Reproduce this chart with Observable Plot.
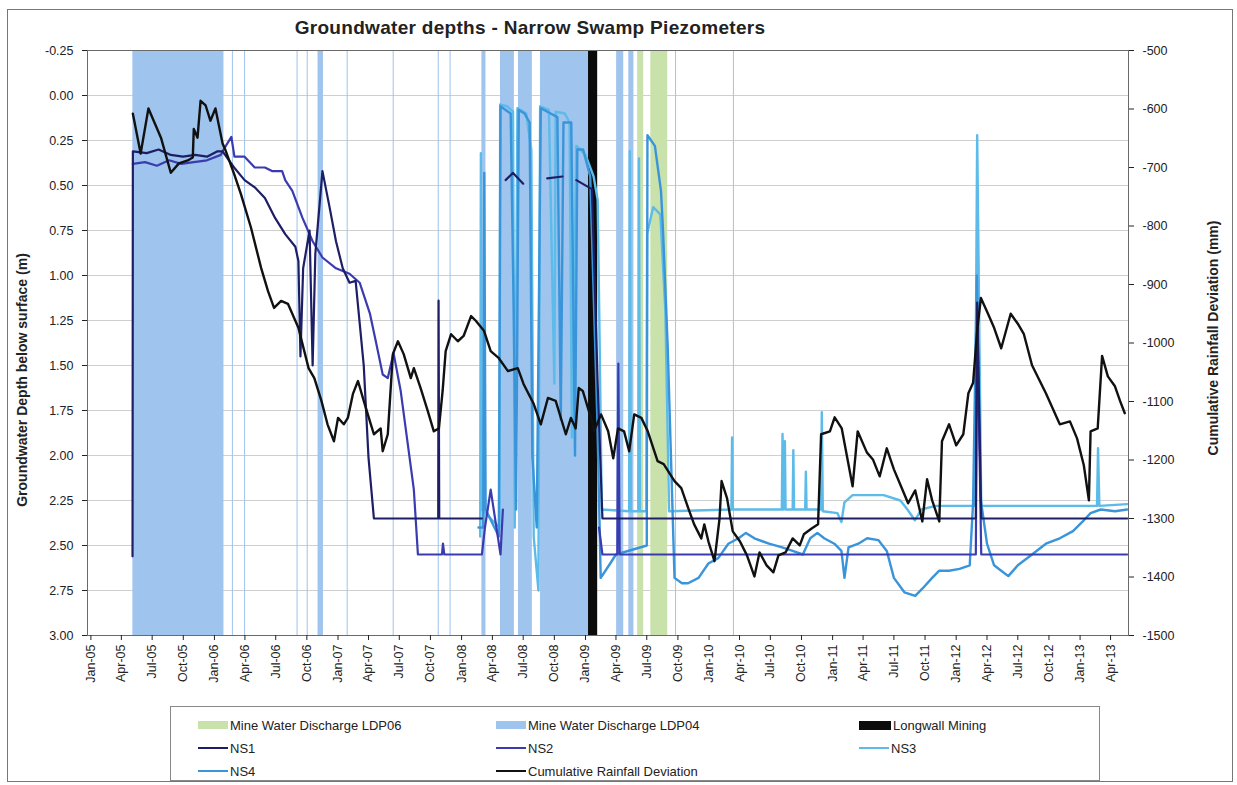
<!DOCTYPE html>
<html><head><meta charset="utf-8">
<script src="https://cdn.jsdelivr.net/npm/d3@7"></script>
<script src="https://cdn.jsdelivr.net/npm/@observablehq/plot@0.6"></script>
<style>
body{margin:0;background:#fff;font-family:"Liberation Sans",Arial,sans-serif;}
#wrap{position:relative;width:1237px;height:785px;overflow:hidden;background:#fff}
#border{position:absolute;left:7px;top:9px;width:1226px;height:773px;border:1px solid #777;box-sizing:border-box}
#title{position:absolute;left:0;width:1060px;top:17px;text-align:center;font-weight:bold;font-size:19px;letter-spacing:0.3px;color:#222}
#plot{position:absolute;left:0;top:0}
.ylab{position:absolute;font-weight:bold;font-size:14px;color:#222;white-space:nowrap;transform-origin:center center}
#legend{position:absolute;left:170px;top:706px;width:930px;height:75px;border:1px solid #888;box-sizing:border-box;font-family:"Liberation Sans Narrow","Liberation Sans",Arial,sans-serif;font-size:13px;color:#222}
.item{position:absolute;display:flex;align-items:center;height:16px}
.sw{display:inline-block;margin-right:2px}
</style></head>
<body>
<div id="wrap">
<div id="border"></div>
<div id="plot"></div>
<div id="title">Groundwater depths - Narrow Swamp Piezometers</div>
<div class="ylab" id="ylabL">Groundwater Depth below surface (m)</div>
<div class="ylab" id="ylabR">Cumulative Rainfall Deviation (mm)</div>
<div id="legend"></div>
</div>
<script>
// ---------- DATA ----------
const depthTicks = [-0.25, 0, 0.25, 0.5, 0.75, 1, 1.25, 1.5, 1.75, 2, 2.25, 2.5, 2.75, 3];
const rainTicks = [-500, -600, -700, -800, -900, -1000, -1100, -1200, -1300, -1400, -1500];
const xTickLabels = ["Jan-05","Apr-05","Jul-05","Oct-05","Jan-06","Apr-06","Jul-06","Oct-06","Jan-07","Apr-07","Jul-07","Oct-07","Jan-08","Apr-08","Jul-08","Oct-08","Jan-09","Apr-09","Jul-09","Oct-09","Jan-10","Apr-10","Jul-10","Oct-10","Jan-11","Apr-11","Jul-11","Oct-11","Jan-12","Apr-12","Jul-12","Oct-12","Jan-13","Apr-13"];

// discharge / mining periods [start, end]
const ldp04 = [["2005-05-05","2006-01-29"],["2006-02-23","2006-02-26"],["2006-03-31","2006-04-03"],["2006-09-02","2006-09-05"],["2006-10-02","2006-10-05"],["2006-11-03","2006-11-19"],["2007-01-28","2007-01-31"],["2007-06-13","2007-06-16"],["2007-10-24","2007-10-27"],["2007-11-28","2007-12-01"],["2008-03-01","2008-03-13"],["2008-04-25","2008-06-05"],["2008-06-17","2008-07-28"],["2008-08-21","2009-01-10"],["2009-04-03","2009-04-24"],["2009-05-09","2009-05-24"],["2009-09-24","2009-09-27"],["2010-03-14","2010-03-17"]];
const ldp06 = [["2009-06-04","2009-06-22"],["2009-07-13","2009-09-01"]];
const longwall = [["2009-01-10","2009-02-06"]];

// groundwater depth (m)
const ns1 = [["2005-05-04",2.56],["2005-05-05",0.31],["2005-06-15",0.32],["2005-07-20",0.30],["2005-08-25",0.33],["2005-09-30",0.34],["2005-11-05",0.33],["2005-12-10",0.34],["2006-01-10",0.31],["2006-01-25",0.31],["2006-02-28",0.40],["2006-03-31",0.47],["2006-04-30",0.51],["2006-05-30",0.57],["2006-06-29",0.68],["2006-07-29",0.77],["2006-08-28",0.84],["2006-09-06",0.92],["2006-09-12",1.45],["2006-09-20",0.96],["2006-10-09",0.75],["2006-10-18",1.50],["2006-10-26",0.88],["2006-11-16",0.42],["2006-12-07",0.62],["2006-12-26",0.81],["2007-01-15",0.96],["2007-02-04",1.04],["2007-02-22",1.03],["2007-03-18",1.50],["2007-04-01",2.01],["2007-04-17",2.35],["2007-10-24",2.35],["2007-10-25",1.14],["2007-10-27",2.35],["2008-03-01",2.35],["2008-03-02",NaN],["2008-05-10",0.47],["2008-06-01",0.43],["2008-07-01",0.49],["2008-07-02",NaN],["2008-09-10",0.46],["2008-10-25",0.45],["2008-10-26",NaN],["2008-12-05",0.47],["2009-01-20",0.52],["2009-02-06",1.60],["2009-02-20",2.35],["2012-02-28",2.35],["2012-03-03",1.15],["2012-03-15",2.35],["2013-05-20",2.35]];
const ns2 = [["2005-05-05",0.38],["2005-06-10",0.37],["2005-07-15",0.39],["2005-08-20",0.36],["2005-09-25",0.38],["2005-11-01",0.37],["2005-12-10",0.36],["2006-01-20",0.33],["2006-01-25",0.31],["2006-02-20",0.23],["2006-03-01",0.34],["2006-03-31",0.34],["2006-04-30",0.40],["2006-05-30",0.40],["2006-06-20",0.42],["2006-07-20",0.42],["2006-07-29",0.47],["2006-08-19",0.53],["2006-09-18",0.68],["2006-10-18",0.81],["2006-11-16",0.90],["2006-12-26",0.96],["2007-02-04",0.99],["2007-03-06",1.04],["2007-04-05",1.21],["2007-04-22",1.36],["2007-05-13",1.55],["2007-05-28",1.57],["2007-06-14",1.43],["2007-07-05",1.64],["2007-08-13",2.19],["2007-08-25",2.55],["2007-11-04",2.55],["2007-11-07",2.49],["2007-11-11",2.55],["2008-03-01",2.55],["2008-03-10",2.40],["2008-03-27",2.19],["2008-04-25",2.55],["2008-05-02",2.30],["2008-05-03",NaN],["2009-02-10",2.40],["2009-02-20",2.55],["2009-04-05",2.55],["2009-04-08",1.49],["2009-04-12",2.55],["2012-02-28",2.55],["2012-03-03",1.20],["2012-03-15",2.55],["2013-05-20",2.55]];
const ns3 = [["2008-02-25",2.45],["2008-02-27",0.32],["2008-03-01",2.30],["2008-04-22",2.40],["2008-04-24",0.05],["2008-05-15",0.06],["2008-06-01",0.09],["2008-06-06",2.40],["2008-06-14",0.07],["2008-07-10",0.10],["2008-07-25",0.30],["2008-08-01",2.45],["2008-08-15",2.75],["2008-08-20",0.06],["2008-09-15",0.08],["2008-10-01",1.60],["2008-10-05",0.09],["2008-11-01",0.10],["2008-11-15",0.15],["2008-11-22",1.90],["2008-12-05",0.28],["2009-01-01",0.33],["2009-01-25",0.45],["2009-02-06",0.58],["2009-02-12",1.40],["2009-02-18",2.30],["2009-05-10",2.31],["2009-05-12",0.31],["2009-05-15",2.31],["2009-06-06",2.31],["2009-06-08",0.35],["2009-06-11",2.31],["2009-06-30",2.31],["2009-07-02",0.77],["2009-07-20",0.62],["2009-08-10",0.66],["2009-08-25",1.20],["2009-09-05",2.31],["2010-03-08",2.30],["2010-03-10",1.90],["2010-03-12",2.30],["2010-08-04",2.30],["2010-08-06",1.88],["2010-08-09",2.30],["2010-08-13",1.92],["2010-08-15",2.30],["2010-09-05",2.30],["2010-09-07",1.97],["2010-09-09",2.30],["2010-10-12",2.30],["2010-10-14",2.09],["2010-10-16",2.30],["2010-11-28",2.30],["2010-11-30",1.76],["2010-12-03",2.31],["2011-01-15",2.32],["2011-01-27",2.37],["2011-02-05",2.26],["2011-03-01",2.22],["2011-06-01",2.22],["2011-07-20",2.25],["2011-08-10",2.30],["2011-09-01",2.36],["2011-09-20",2.30],["2011-11-01",2.28],["2012-02-25",2.28],["2012-03-03",0.22],["2012-03-15",2.28],["2013-02-20",2.28],["2013-02-23",1.96],["2013-02-27",2.28],["2013-05-20",2.27]];
const ns4 = [["2008-02-20",2.40],["2008-03-05",2.40],["2008-03-08",0.43],["2008-03-12",2.30],["2008-04-20",2.45],["2008-04-25",0.06],["2008-05-10",0.08],["2008-05-25",0.10],["2008-06-03",1.20],["2008-06-10",2.30],["2008-06-18",0.08],["2008-07-05",0.10],["2008-07-20",0.15],["2008-07-28",2.00],["2008-08-10",2.40],["2008-08-22",0.07],["2008-09-20",0.10],["2008-10-10",0.12],["2008-10-20",1.80],["2008-10-28",0.15],["2008-11-20",0.15],["2008-12-01",2.00],["2008-12-08",0.30],["2008-12-25",0.30],["2009-01-15",0.45],["2009-02-05",1.80],["2009-02-15",2.68],["2009-03-15",2.60],["2009-04-01",2.55],["2009-07-01",2.50],["2009-07-03",0.22],["2009-07-25",0.28],["2009-08-12",0.53],["2009-08-18",0.75],["2009-09-01",1.40],["2009-09-21",2.68],["2009-10-13",2.71],["2009-10-31",2.71],["2009-12-01",2.68],["2009-12-30",2.60],["2010-01-28",2.57],["2010-02-27",2.49],["2010-03-29",2.46],["2010-04-20",2.43],["2010-05-15",2.46],["2010-06-27",2.49],["2010-08-05",2.51],["2010-09-05",2.53],["2010-10-05",2.55],["2010-10-27",2.46],["2010-11-17",2.43],["2010-12-07",2.46],["2011-01-06",2.49],["2011-01-27",2.53],["2011-02-05",2.68],["2011-02-17",2.51],["2011-03-18",2.49],["2011-04-13",2.46],["2011-05-16",2.47],["2011-06-10",2.53],["2011-07-01",2.68],["2011-08-01",2.76],["2011-09-02",2.78],["2011-09-23",2.74],["2011-10-22",2.68],["2011-11-12",2.64],["2011-12-11",2.64],["2012-01-11",2.63],["2012-02-10",2.61],["2012-02-20",2.26],["2012-03-02",1.00],["2012-03-14",2.25],["2012-04-01",2.49],["2012-04-22",2.61],["2012-05-13",2.64],["2012-06-03",2.67],["2012-07-01",2.61],["2012-08-12",2.55],["2012-09-22",2.49],["2012-11-02",2.46],["2012-12-11",2.42],["2013-01-12",2.36],["2013-02-01",2.32],["2013-03-03",2.30],["2013-04-14",2.31],["2013-05-20",2.30]];

// cumulative rainfall deviation (mm)
const rain = [["2005-05-05",-608],["2005-05-28",-676],["2005-06-20",-599],["2005-07-27",-649],["2005-08-25",-709],["2005-09-18",-693],["2005-10-14",-688],["2005-10-29",-683],["2005-11-01",-634],["2005-11-12",-649],["2005-11-21",-586],["2005-12-06",-594],["2005-12-20",-620],["2006-01-04",-599],["2006-01-13",-625],["2006-01-25",-659],["2006-02-03",-671],["2006-02-28",-711],["2006-03-20",-745],["2006-04-19",-803],["2006-05-19",-872],["2006-06-08",-911],["2006-06-26",-940],["2006-07-17",-928],["2006-08-06",-933],["2006-09-06",-974],["2006-10-06",-1043],["2006-10-23",-1060],["2006-11-13",-1099],["2006-12-01",-1139],["2006-12-20",-1168],["2007-01-01",-1128],["2007-01-18",-1139],["2007-01-30",-1128],["2007-02-14",-1087],["2007-03-01",-1065],["2007-03-18",-1099],["2007-04-08",-1139],["2007-04-17",-1156],["2007-05-07",-1146],["2007-05-13",-1185],["2007-05-28",-1156],["2007-06-12",-1019],["2007-06-27",-997],["2007-07-14",-1019],["2007-08-04",-1060],["2007-08-13",-1043],["2007-09-02",-1077],["2007-09-23",-1116],["2007-10-11",-1151],["2007-10-26",-1146],["2007-11-06",-1082],["2007-11-15",-1014],["2007-12-01",-985],["2007-12-21",-997],["2008-01-07",-988],["2008-01-29",-954],["2008-02-12",-962],["2008-03-07",-979],["2008-03-27",-1014],["2008-04-20",-1026],["2008-05-17",-1048],["2008-06-15",-1043],["2008-07-02",-1070],["2008-08-01",-1104],["2008-08-22",-1139],["2008-09-12",-1094],["2008-10-05",-1099],["2008-11-04",-1156],["2008-11-19",-1128],["2008-12-03",-1146],["2008-12-12",-1077],["2008-12-24",-1082],["2009-01-17",-1128],["2009-01-26",-1151],["2009-02-16",-1122],["2009-03-09",-1151],["2009-03-24",-1197],["2009-04-07",-1146],["2009-04-25",-1151],["2009-05-10",-1185],["2009-05-25",-1122],["2009-06-15",-1128],["2009-07-04",-1151],["2009-08-02",-1202],["2009-08-20",-1207],["2009-09-21",-1236],["2009-10-11",-1248],["2009-11-01",-1283],["2009-11-18",-1310],["2009-12-09",-1334],["2009-12-18",-1310],["2009-12-30",-1339],["2010-01-17",-1373],["2010-02-01",-1300],["2010-02-07",-1236],["2010-02-23",-1265],["2010-03-12",-1322],["2010-04-02",-1339],["2010-04-23",-1363],["2010-05-15",-1399],["2010-05-30",-1358],["2010-06-20",-1380],["2010-07-10",-1392],["2010-07-25",-1363],["2010-08-15",-1358],["2010-09-05",-1334],["2010-09-26",-1346],["2010-10-08",-1327],["2010-10-31",-1317],["2010-11-19",-1310],["2010-11-28",-1156],["2010-12-24",-1151],["2011-01-07",-1127],["2011-01-28",-1146],["2011-03-01",-1245],["2011-03-16",-1151],["2011-04-12",-1187],["2011-04-30",-1199],["2011-05-20",-1228],["2011-06-10",-1180],["2011-07-01",-1216],["2011-07-22",-1245],["2011-08-12",-1274],["2011-09-02",-1252],["2011-09-23",-1305],["2011-10-07",-1233],["2011-10-22",-1269],["2011-11-12",-1305],["2011-11-20",-1168],["2011-12-11",-1139],["2012-01-01",-1175],["2012-01-22",-1156],["2012-02-06",-1086],["2012-02-20",-1068],["2012-03-03",-979],["2012-03-14",-923],["2012-04-04",-950],["2012-04-22",-974],["2012-05-13",-1009],["2012-06-10",-950],["2012-07-01",-967],["2012-07-19",-985],["2012-08-12",-1038],["2012-09-22",-1086],["2012-11-02",-1139],["2012-12-02",-1134],["2012-12-23",-1163],["2013-01-12",-1209],["2013-01-27",-1269],["2013-02-01",-1151],["2013-02-22",-1146],["2013-03-07",-1022],["2013-03-24",-1057],["2013-04-14",-1074],["2013-04-29",-1099],["2013-05-13",-1120]];

// ---------- STYLE ----------
const C = {ldp06:"#c9e2ac", ldp04:"#9fc4ee", longwall:"#0b0b0b", ns1:"#1e1e66", ns2:"#3b3bb0", ns3:"#5cbbe8", ns4:"#3a94da", rain:"#111111"};

// ---------- BUILD ----------
const parse = s => new Date(s + "T00:00:00Z");
const rows = arr => arr.map(([d, v]) => ({date: parse(d), v}));
const spans = arr => arr.map(([a, b]) => ({a: parse(a), b: parse(b)}));
const rainToDepth = r => -0.25 + (-500 - r) / 1000 * 3.25;
const depthToRain = d => -500 - (d + 0.25) / 3.25 * 1000;
const tickParse = d3.utcParse("%b-%y");
const xTicks = xTickLabels.map(tickParse);
const fmtX = d3.utcFormat("%b-%y");

const chart = Plot.plot({
  width: 1237, height: 712,
  marginLeft: 87, marginRight: 109, marginTop: 50, marginBottom: 77,
  style: {fontFamily: "'Liberation Sans', Arial, sans-serif", fontSize: "12.5px", color: "#222", background: "transparent"},
  x: {type: "utc", domain: [parse("2004-12-22"), parse("2013-05-24")]},
  y: {domain: [3, -0.25]},
  marks: [
    Plot.gridY(depthTicks, {stroke: "#cfcfcf", strokeOpacity: 1}),
    Plot.rect(spans(ldp04), {x1: "a", x2: "b", fill: C.ldp04, fillOpacity: 1, inset: 0}),
    Plot.rect(spans(ldp06), {x1: "a", x2: "b", fill: C.ldp06, fillOpacity: 1, inset: 0}),
    Plot.rect(spans(longwall), {x1: "a", x2: "b", fill: C.longwall, inset: 0}),
    Plot.line(rows(ns3), {x: "date", y: "v", stroke: C.ns3, strokeWidth: 2.4}),
    Plot.line(rows(ns4), {x: "date", y: "v", stroke: C.ns4, strokeWidth: 2.4}),
    Plot.line(rows(ns2), {x: "date", y: "v", stroke: C.ns2, strokeWidth: 2.2}),
    Plot.line(rows(ns1), {x: "date", y: "v", stroke: C.ns1, strokeWidth: 2.2}),
    Plot.line(rows(rain), {x: "date", y: d => rainToDepth(d.v), stroke: C.rain, strokeWidth: 2.4}),
    Plot.frame({stroke: "#6a6a6a"}),
    Plot.axisY({ticks: depthTicks, tickFormat: d => d.toFixed(2), label: null, tickSize: 5, tickPadding: 9}),
    Plot.axisY({anchor: "right", ticks: rainTicks.map(rainToDepth), tickFormat: d => String(Math.round(depthToRain(d))), label: null, tickSize: 5, tickPadding: 9}),
    Plot.axisX({ticks: xTicks, tickFormat: fmtX, tickRotate: -90, label: null, tickSize: 5, tickPadding: 4})
  ]
});
document.getElementById("plot").appendChild(chart);

// axis titles
const L = document.getElementById("ylabL");
L.style.left = (22 - 140) + "px"; L.style.top = (380 - 8) + "px"; L.style.width = "280px"; L.style.textAlign = "center"; L.style.transform = "rotate(-90deg)";
const R = document.getElementById("ylabR");
R.style.left = (1213 - 140) + "px"; R.style.top = (338 - 8) + "px"; R.style.width = "280px"; R.style.textAlign = "center"; R.style.transform = "rotate(-90deg)";

// legend
const legendItems = [
  {label: "Mine Water Discharge LDP06", type: "box", color: C.ldp06, col: 0, row: 0},
  {label: "Mine Water Discharge LDP04", type: "box", color: C.ldp04, col: 1, row: 0},
  {label: "Longwall Mining", type: "big", color: C.longwall, col: 2, row: 0},
  {label: "NS1", type: "line", color: C.ns1, col: 0, row: 1},
  {label: "NS2", type: "line", color: C.ns2, col: 1, row: 1},
  {label: "NS3", type: "line", color: C.ns3, col: 2, row: 1},
  {label: "NS4", type: "line", color: C.ns4, col: 0, row: 2},
  {label: "Cumulative Rainfall Deviation", type: "line", color: C.rain, col: 1, row: 2}
];
const colX = [27, 325, 688], rowY = [10, 33, 56];
const lg = document.getElementById("legend");
for (const it of legendItems) {
  const d = document.createElement("div");
  d.className = "item";
  d.style.left = colX[it.col] + "px"; d.style.top = rowY[it.row] + "px";
  const s = document.createElement("span");
  s.className = "sw";
  if (it.type === "box") { s.style.width = "30px"; s.style.height = "8px"; s.style.background = it.color; }
  else if (it.type === "big") { s.style.width = "32px"; s.style.height = "9px"; s.style.background = it.color; }
  else { s.style.width = "30px"; s.style.height = "2px"; s.style.background = it.color; }
  d.appendChild(s);
  const t = document.createElement("span"); t.textContent = it.label; d.appendChild(t);
  lg.appendChild(d);
}
</script>
</body></html>
